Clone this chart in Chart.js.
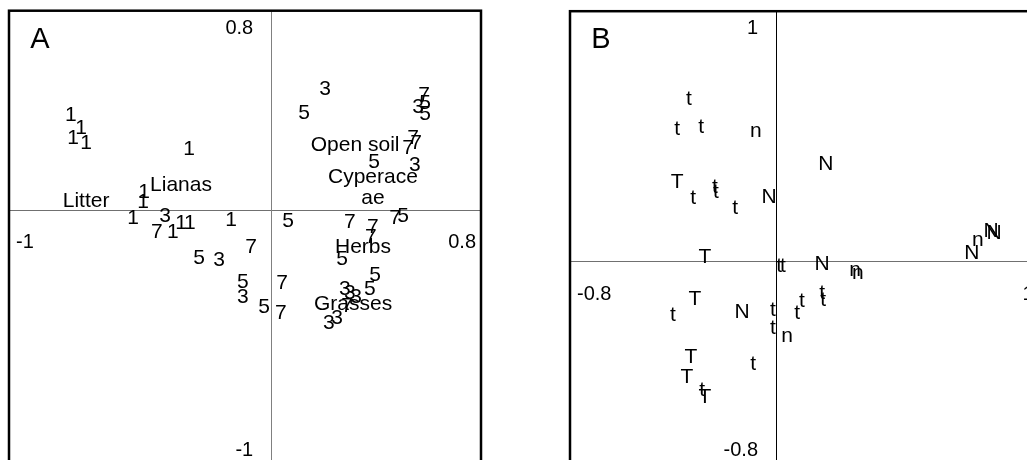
<!DOCTYPE html>
<html>
<head>
<meta charset="utf-8">
<script src="https://cdn.jsdelivr.net/npm/chart.js@4/dist/chart.umd.min.js"></script>
<style>
  html, body { margin: 0; padding: 0; background: #fff; }
  body { width: 1027px; height: 460px; overflow: hidden; position: relative; }
  canvas { position: absolute; top: 0; }
  #cA { left: 0; }
  #cB { left: 560px; }
</style>
</head>
<body>
<canvas id="cA" width="500" height="490"></canvas>
<canvas id="cB" width="490" height="490"></canvas>
<script>
// ---------- Panel A data (CCA scores, axis 1 vs axis 2) ----------
const aSite1X = [-0.764, -0.725, -0.756, -0.706, -0.313, -0.485, -0.489, -0.527, -0.375, -0.344, -0.310, -0.153];
const aSite1Y = [0.362, 0.313, 0.275, 0.256, 0.233, 0.069, 0.031, -0.031, -0.084, -0.050, -0.050, -0.038];
const aSite3X = [-0.405, -0.199, -0.108, 0.205, 0.560, 0.548, 0.281, 0.300, 0.324, 0.251, 0.220];
const aSite3Y = [-0.023, -0.191, -0.332, 0.461, 0.393, 0.172, -0.301, -0.317, -0.332, -0.412, -0.431];
const aSite5X = [-0.275, -0.108, -0.027, 0.125, 0.587, 0.587, 0.392, 0.064, 0.503, 0.270, 0.396, 0.376];
const aSite5Y = [-0.183, -0.275, -0.370, 0.370, 0.408, 0.366, 0.183, -0.042, -0.023, -0.187, -0.248, -0.301];
const aSite7X = [-0.436, -0.077, 0.041, 0.037, 0.583, 0.541, 0.552, 0.522, 0.300, 0.388, 0.380, 0.472, 0.289];
const aSite7Y = [-0.084, -0.141, -0.278, -0.393, 0.439, 0.275, 0.256, 0.236, -0.046, -0.065, -0.103, -0.031, -0.366];
const aEnvNames = ['Litter', 'Lianas', 'Open soil', 'Cyperace\nae', 'Herbs', 'Grasses'];
const aEnvX = [-0.706, -0.344, 0.320, 0.388, 0.350, 0.312];
const aEnvY = [0.034, 0.095, 0.248, 0.086, -0.141, -0.359];
const aXTicks = ['-1', '0.8'];
const aYTicks = ['-1', '0.8'];

// ---------- Panel B data ----------
const bSmallTX = [-0.338, -0.384, -0.291, -0.322, -0.237, -0.233, -0.159, 0.012, 0.027, -0.400, -0.012, -0.012, -0.089, -0.287, 0.082, 0.101, 0.179, 0.183];
const bSmallTY = [0.629, 0.513, 0.520, 0.245, 0.287, 0.268, 0.206, -0.019, -0.019, -0.210, -0.190, -0.260, -0.400, -0.501, -0.202, -0.155, -0.124, -0.151];
const bBigTX = [-0.384, -0.276, -0.315, -0.330, -0.346, -0.276];
const bBigTY = [0.307, 0.016, -0.148, -0.373, -0.450, -0.528];
const bSmallNX = [-0.078, 0.043, 0.307, 0.318, 0.784];
const bSmallNY = [0.505, -0.291, -0.035, -0.047, 0.082];
const bBigNX = [-0.027, -0.132, 0.194, 0.179, 0.761, 0.835, 0.847];
const bBigNY = [0.249, -0.198, 0.377, -0.012, 0.031, 0.117, 0.109];
const bXTicks = ['-0.8', '1'];
const bYTicks = ['-0.8', '1'];

const FONT = '"Liberation Sans", Arial, Helvetica, sans-serif';

function pts(xs, ys) { return xs.map((x, i) => ({ x: x, y: ys[i] })); }
function textSet(name, xs, ys, names) {
  return { label: name, data: pts(xs, ys), texts: names || xs.map(() => name),
           pointRadius: 0, pointHoverRadius: 0, showLine: false };
}

const labelPlugin = {
  id: 'ordLabels',
  beforeDatasetsDraw(chart, args, opts) {
    const { ctx, chartArea: ca, scales: { x, y } } = chart;
    const x0 = x.getPixelForValue(0), y0 = y.getPixelForValue(0);
    ctx.save();
    ctx.lineWidth = 1;
    ctx.strokeStyle = opts.hColor;
    ctx.beginPath(); ctx.moveTo(ca.left, Math.round(y0) + 0.5); ctx.lineTo(ca.right, Math.round(y0) + 0.5); ctx.stroke();
    ctx.strokeStyle = opts.vColor;
    ctx.beginPath(); ctx.moveTo(Math.round(x0) + 0.5, ca.top); ctx.lineTo(Math.round(x0) + 0.5, ca.bottom); ctx.stroke();
    ctx.restore();
  },
  afterDatasetsDraw(chart, args, opts) {
    const { ctx, chartArea: ca, scales: { x, y } } = chart;
    ctx.save();
    ctx.fillStyle = '#000';
    ctx.font = '21px ' + FONT;
    ctx.textAlign = 'center';
    ctx.textBaseline = 'middle';
    chart.data.datasets.forEach((ds, di) => {
      const meta = chart.getDatasetMeta(di);
      meta.data.forEach((el, i) => {
        const lines = ds.texts[i].split('\n');
        const lh = 21;
        const start = el.y - (lines.length - 1) * lh / 2;
        lines.forEach((ln, k) => ctx.fillText(ln, el.x, start + k * lh));
      });
    });
    // axis end labels
    const x0 = x.getPixelForValue(0), y0 = y.getPixelForValue(0);
    ctx.font = '20px ' + FONT;
    ctx.textAlign = 'right';
    ctx.fillText(opts.yTicks[1], x0 - 18, ca.top + 17.5);
    ctx.fillText(opts.yTicks[0], x0 - 18, ca.bottom - 21.5);
    ctx.textAlign = 'left';
    ctx.fillText(opts.xTicks[0], ca.left + 7, y0 + 33);
    ctx.textAlign = 'right';
    ctx.fillText(opts.xTicks[1], ca.right - 5, y0 + 33);
    // panel letter
    ctx.font = '29px ' + FONT;
    ctx.textAlign = 'center';
    ctx.fillText(opts.letter, ca.left + 31, ca.top + 29);
    // frame
    ctx.lineWidth = 2.5;
    ctx.strokeStyle = '#000';
    ctx.strokeRect(ca.left, ca.top, ca.right - ca.left, ca.bottom - ca.top);
    ctx.restore();
  }
};

function makeChart(id, datasets, xr, yr, pad, plugOpts) {
  return new Chart(document.getElementById(id), {
    type: 'scatter',
    data: { datasets: datasets },
    options: {
      responsive: false, animation: false, devicePixelRatio: 1,
      layout: { padding: pad },
      scales: {
        x: { type: 'linear', min: xr[0], max: xr[1], display: false },
        y: { type: 'linear', min: yr[0], max: yr[1], display: false }
      },
      plugins: { legend: { display: false }, tooltip: { enabled: false }, ordLabels: plugOpts }
    },
    plugins: [labelPlugin]
  });
}

makeChart('cA', [
  textSet('1', aSite1X, aSite1Y),
  textSet('3', aSite3X, aSite3Y),
  textSet('5', aSite5X, aSite5Y),
  textSet('7', aSite7X, aSite7Y),
  textSet('env', aEnvX, aEnvY, aEnvNames)
], [-1, 0.8], [-1, 0.76], { left: 9, right: 19, top: 10.7, bottom: 17.8 },
  { letter: 'A', xTicks: aXTicks, yTicks: aYTicks, hColor: '#707070', vColor: '#808080' });

makeChart('cB', [
  textSet('t', bSmallTX, bSmallTY),
  textSet('T', bBigTX, bBigTY),
  textSet('n', bSmallNX, bSmallNY),
  textSet('N', bBigNX, bBigNY)
], [-0.8, 1.02], [-0.82, 0.97], { left: 10, right: 11.35, top: 11.2, bottom: 17.85 },
  { letter: 'B', xTicks: bXTicks, yTicks: bYTicks, hColor: '#707070', vColor: '#000' });
</script>
</body>
</html>
